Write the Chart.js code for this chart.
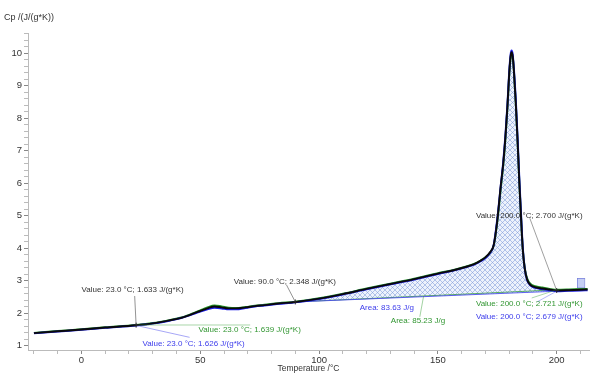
<!DOCTYPE html>
<html>
<head>
<meta charset="utf-8">
<script src="https://cdn.jsdelivr.net/npm/chart.js@4/dist/chart.umd.min.js"></script>
<style>
html,body{margin:0;padding:0;background:#fff;}
#c{display:block;}
</style>
</head>
<body>
<canvas id="c" width="600" height="380"></canvas>
<script>
// ---- data ----
const temps = [-20,-10,0,10,23,30,37,42,46,50,53,56,59,62,65,69,73,77,83,90,100,110,120,130,140,150,157,162,165,168,170,172,173.5,175,176.5,177.5,178.5,179.3,180,180.6,181,181.5,182,182.8,183.6,184.3,185,185.7,186.5,187.5,189,191,194,197,200,205,210,213];
const cpBlack = [1.39,1.445,1.50,1.56,1.633,1.69,1.78,1.86,1.96,2.07,2.15,2.21,2.18,2.15,2.15,2.18,2.22,2.25,2.30,2.348,2.45,2.59,2.75,2.90,3.05,3.22,3.33,3.43,3.50,3.62,3.72,3.88,4.10,4.85,5.95,6.60,7.50,8.40,9.35,9.90,10.03,9.90,9.45,8.45,7.20,6.00,4.95,4.00,3.40,3.05,2.87,2.80,2.76,2.73,2.700,2.71,2.725,2.73];
const cpBlue  = [1.384,1.439,1.494,1.553,1.626,1.683,1.772,1.852,1.95,2.05,2.12,2.17,2.15,2.12,2.12,2.16,2.21,2.24,2.29,2.34,2.44,2.58,2.74,2.89,3.04,3.21,3.32,3.42,3.49,3.60,3.70,3.86,4.10,4.90,5.95,6.65,7.55,8.45,9.40,9.95,10.08,9.95,9.50,8.55,7.30,6.10,5.05,4.05,3.40,3.03,2.85,2.78,2.74,2.71,2.679,2.69,2.70,2.71];
const cpGreen = [1.395,1.451,1.506,1.566,1.639,1.697,1.788,1.868,1.97,2.09,2.18,2.24,2.21,2.17,2.16,2.19,2.23,2.26,2.31,2.355,2.46,2.60,2.76,2.91,3.06,3.23,3.34,3.44,3.51,3.62,3.72,3.86,4.08,4.82,5.85,6.55,7.45,8.35,9.30,9.85,10.0,9.88,9.45,8.45,7.20,6.00,4.95,4.00,3.42,3.08,2.90,2.83,2.79,2.75,2.721,2.73,2.745,2.75];
const baseT = [90, 200];
const baseBlue = [2.348, 2.679];
const baseGreen = [2.348, 2.721];
const xTickStep = 10, xLabelStep = 50;
const yTickStep = 0.2;
const yTitle = 'Cp /(J/(g*K))';
const xTitle = 'Temperature /°C';
// annotation texts and the data points they refer to
const noteTexts = [
  'Value: 23.0 °C; 1.633 J/(g*K)',
  'Value: 23.0 °C; 1.639 J/(g*K)',
  'Value: 23.0 °C; 1.626 J/(g*K)',
  'Value: 90.0 °C; 2.348 J/(g*K)',
  'Value: 200.0 °C; 2.700 J/(g*K)',
  'Value: 200.0 °C; 2.721 J/(g*K)',
  'Value: 200.0 °C; 2.679 J/(g*K)',
  'Area: 83.63 J/g',
  'Area: 85.23 J/g'
];
const noteT  = [23, 23, 23, 90, 200, 200, 200, 145, 144];
const noteCp = [1.633, 1.639, 1.626, 2.348, 2.700, 2.721, 2.679, 2.53, 2.53];

// ---- build library data ----
const pts = (xs, ys) => xs.map((x, i) => ({x: x, y: ys[i]}));
const fillPts = pts(temps, cpBlack).filter(p => p.x >= baseT[0] && p.x <= baseT[1]);

const canvas = document.getElementById('c');
const ctx = canvas.getContext('2d');
const pc = document.createElement('canvas');
pc.width = 5; pc.height = 5;
const pg = pc.getContext('2d');
pg.fillStyle = 'rgba(225,233,250,0.6)';
pg.fillRect(0,0,5,5);
pg.strokeStyle = 'rgba(120,150,215,0.75)';
pg.lineWidth = 0.7;
pg.beginPath(); pg.moveTo(0,0); pg.lineTo(5,5); pg.moveTo(5,0); pg.lineTo(0,5); pg.stroke();
const hatch = ctx.createPattern(pc, 'repeat');

const BLUE = 'rgb(30,30,235)';
const GREEN = 'rgb(40,150,40)';
const TXT_BLUE = 'rgb(60,60,235)';
const TXT_GREEN = 'rgb(50,150,50)';
const TXT_DARK = '#333';

// layout of annotation labels (label anchor in data units, leader start in data units)
const noteLayout = [
  {tx: 0.0,   ty: 2.73, color: TXT_DARK,  lead: [22.4, 2.53], lc: '#777'},
  {tx: 49.3,  ty: 1.48, color: TXT_GREEN, lead: [71, 1.639], lc: 'rgba(60,160,60,0.55)'},
  {tx: 25.7,  ty: 1.07, color: TXT_BLUE,  lead: [45.5, 1.26], lc: 'rgba(70,70,235,0.6)'},
  {tx: 64.1,  ty: 2.96, color: TXT_DARK,  lead: [86.3, 2.87], lc: '#777'},
  {tx: 166.0, ty: 4.99, color: TXT_DARK,  lead: [188.7, 4.92], lc: '#888'},
  {tx: 166.0, ty: 2.28, color: TXT_GREEN, lead: [189.5, 2.47], lc: 'rgba(60,160,60,0.55)'},
  {tx: 166.0, ty: 1.89, color: TXT_BLUE,  lead: [192, 2.36], lc: 'rgba(70,70,235,0.5)'},
  {tx: 117.1, ty: 2.18, color: TXT_BLUE,  lead: null},
  {tx: 130.2, ty: 1.76, color: TXT_GREEN, lead: [142.4, 1.89], lc: 'rgba(60,160,60,0.6)'}
];
const markerIdx = [0, 3, 4];

const notesPlugin = {
  id: 'notes',
  afterDatasetsDraw(chart) {
    const c = chart.ctx, xs = chart.scales.x, ys = chart.scales.y;
    c.save();
    c.font = '8px "Liberation Sans", Arial, sans-serif';
    c.textBaseline = 'middle';
    c.textAlign = 'left';
    noteTexts.forEach((t, i) => {
      const L = noteLayout[i];
      if (L.lead) {
        c.strokeStyle = L.lc; c.lineWidth = 0.8;
        c.beginPath();
        c.moveTo(xs.getPixelForValue(L.lead[0]), ys.getPixelForValue(L.lead[1]));
        c.lineTo(xs.getPixelForValue(noteT[i]), ys.getPixelForValue(noteCp[i]));
        c.stroke();
      }
      c.fillStyle = L.color;
      c.fillText(t, xs.getPixelForValue(L.tx), ys.getPixelForValue(L.ty));
    });
    // small cross markers
    c.strokeStyle = '#222'; c.lineWidth = 0.9;
    markerIdx.forEach(i => {
      const px = xs.getPixelForValue(noteT[i]), py = ys.getPixelForValue(noteCp[i]);
      c.beginPath();
      c.moveTo(px - 2.5, py); c.lineTo(px + 2.5, py);
      c.moveTo(px, py - 2.5); c.lineTo(px, py + 2.5);
      c.stroke();
    });
    // small icon at the right end
    const ix0 = xs.getPixelForValue(208.6), ix1 = xs.getPixelForValue(211.6);
    const iy0 = ys.getPixelForValue(3.08), iy1 = ys.getPixelForValue(2.80);
    c.fillStyle = 'rgba(150,165,235,0.55)';
    c.fillRect(ix0, iy0, ix1 - ix0, iy1 - iy0);
    c.strokeStyle = 'rgba(90,100,210,0.8)'; c.lineWidth = 0.7;
    c.strokeRect(ix0 + 0.5, iy0 + 0.5, ix1 - ix0, iy1 - iy0);
    // y axis title
    c.fillStyle = '#333';
    c.font = '9px "Liberation Sans", Arial, sans-serif';
    c.fillText(yTitle, 4, 18);
    c.restore();
  }
};

const onGrid = (v, step) => Math.abs(v / step - Math.round(v / step)) < 1e-6;

new Chart(ctx, {
  type: 'line',
  data: {
    datasets: [
      {label: 'black', data: pts(temps, cpBlack), borderColor: '#0a0a0a', borderWidth: 1.9, pointRadius: 0, cubicInterpolationMode: 'monotone', fill: false},
      {label: 'blue', data: pts(temps, cpBlue), borderColor: BLUE, borderWidth: 2, pointRadius: 0, cubicInterpolationMode: 'monotone', fill: false},
      {label: 'green', data: pts(temps, cpGreen), borderColor: GREEN, borderWidth: 2, pointRadius: 0, cubicInterpolationMode: 'monotone', fill: false},
      {label: 'baseBlue', data: pts(baseT, baseBlue), borderColor: 'rgba(70,70,240,0.85)', borderWidth: 1, pointRadius: 0, fill: false},
      {label: 'baseGreen', data: pts(baseT, baseGreen), borderColor: 'rgba(60,160,60,0.8)', borderWidth: 1, pointRadius: 0, fill: false},
      {label: 'area', data: fillPts, borderWidth: 0, borderColor: 'rgba(0,0,0,0)', backgroundColor: hatch, pointRadius: 0, cubicInterpolationMode: 'monotone', fill: 3}
    ]
  },
  options: {
    responsive: false,
    animation: false,
    events: [],
    layout: {padding: {top: 33, right: 11, left: 0, bottom: 0}},
    plugins: {legend: {display: false}, tooltip: {enabled: false}},
    scales: {
      x: {
        type: 'linear', min: -22.5, max: 213.6,
        afterFit: s => { s.height = 30; },
        afterBuildTicks: s => { s.ticks = s.ticks.filter(t => onGrid(t.value, xTickStep)); },
        ticks: {stepSize: xTickStep, includeBounds: false, autoSkip: false, maxRotation: 0, padding: 1, color: '#333',
          font: {size: 9.5, family: '"Liberation Sans", Arial, sans-serif'},
          callback: v => onGrid(v, xLabelStep) ? String(Math.round(v)) : ''},
        grid: {drawOnChartArea: false, drawTicks: true, tickLength: 4,
          tickColor: c => (c.tick && onGrid(c.tick.value, xLabelStep)) ? '#888' : '#bbb'},
        border: {color: '#bbb', width: 1},
        title: {display: true, text: xTitle, color: '#333', align: 'center',
          font: {size: 8.5, family: '"Liberation Sans", Arial, sans-serif'}, padding: {top: 0, bottom: 6}}
      },
      y: {
        type: 'linear', min: 0.87, max: 10.62,
        afterFit: s => { s.width = 28; },
        afterBuildTicks: s => { s.ticks = s.ticks.filter(t => onGrid(t.value, yTickStep)); },
        ticks: {stepSize: yTickStep, includeBounds: false, autoSkip: false, padding: 2, color: '#333',
          font: {size: 9.5, family: '"Liberation Sans", Arial, sans-serif'},
          callback: v => onGrid(v, 1) ? String(Math.round(v)) : ''},
        grid: {drawOnChartArea: false, drawTicks: true, tickLength: 4,
          tickColor: c => (c.tick && onGrid(c.tick.value, 1)) ? '#888' : '#bbb'},
        border: {color: '#bbb', width: 1}
      }
    }
  },
  plugins: [notesPlugin]
});
</script>
</body>
</html>
